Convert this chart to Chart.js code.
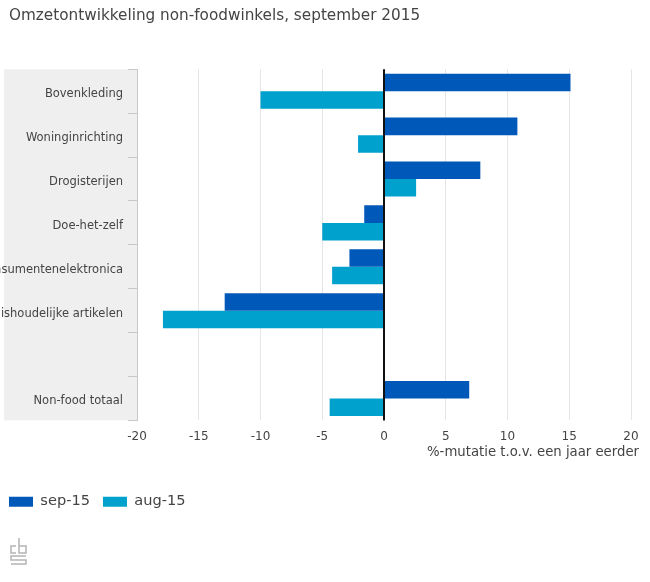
<!DOCTYPE html>
<html>
<head>
<meta charset="utf-8">
<script src="https://cdn.jsdelivr.net/npm/chart.js@4"></script>
<style>
    html, body { margin: 0; padding: 0; background: #fff; overflow: hidden; }
    #wrap { width: 650px; height: 582px; }
</style>
</head>
<body>
<div id="wrap"><canvas id="salesChart"></canvas></div>
<script>
const categories = ['Bovenkleding', 'Woninginrichting', 'Drogisterijen', 'Doe-het-zelf',
    'Consumentenelektronica', 'Huishoudelijke artikelen', ' ', 'Non-food totaal'];
const sep15 = [15.1, 10.8, 7.8, -1.6, -2.8, -12.9, null, 6.9];
const aug15 = [-10, -2.1, 2.6, -5, -4.2, -17.9, null, -4.4];
const xTicks = [-20, -15, -10, -5, 0, 5, 10, 15, 20];
const chartTitle = 'Omzetontwikkeling non-foodwinkels, september 2015';
const axisTitle = '%-mutatie t.o.v. een jaar eerder';

const FONT = '"DejaVu Sans", sans-serif';
const TEXT = '#444444';

// Grey band behind the category labels, zero line, axis caption and logo
const extras = {
    id: 'extras',
    afterLayout(chart) {
        // title and legend start at x=9, the y labels run on to the page edge
        chart.titleBlock.left = 9;
        chart.legend.left = 9 - 13;
        chart.legend.top += 1;
    },
    beforeDraw(chart) {
        const a = chart.chartArea;
        const c = chart.ctx;
        c.save();
        c.fillStyle = '#efefef';
        c.fillRect(4, a.top, a.left - 4, a.bottom - a.top);
        c.restore();
    },
    afterDatasetsDraw(chart) {
        const a = chart.chartArea;
        const c = chart.ctx;
        const x0 = chart.scales.x.getPixelForValue(0);
        c.save();
        c.strokeStyle = '#111111';
        c.lineWidth = 2;
        c.beginPath();
        c.moveTo(x0, a.top);
        c.lineTo(x0, a.bottom);
        c.stroke();
        c.restore();
    },
    afterDraw(chart) {
        const c = chart.ctx;
        c.save();
        c.fillStyle = TEXT;
        c.font = '13.25px ' + FONT;
        c.textAlign = 'right';
        c.textBaseline = 'middle';
        c.fillText(axisTitle, 639, 453);

        // cbs logo
        c.strokeStyle = '#b4b4b4';
        c.lineWidth = 1.5;
        c.beginPath();
        // c
        c.moveTo(16, 546); c.lineTo(11, 546); c.lineTo(11, 553); c.lineTo(16, 553);
        // b
        c.moveTo(19, 538); c.lineTo(19, 553); c.lineTo(26, 553); c.lineTo(26, 546); c.lineTo(19, 546);
        // s
        c.moveTo(26, 556); c.lineTo(11, 556); c.lineTo(11, 560); c.lineTo(26, 560);
        c.lineTo(26, 564); c.lineTo(11, 564);
        c.stroke();
        c.restore();
    }
};

new Chart(document.getElementById('salesChart').getContext('2d'), {
    type: 'bar',
    data: {
        labels: categories,
        datasets: [
            { label: 'sep-15', data: sep15, backgroundColor: '#0058b8' },
            { label: 'aug-15', data: aug15, backgroundColor: '#00a1cd' }
        ]
    },
    options: {
        indexAxis: 'y',
        responsive: true,
        maintainAspectRatio: false,
        animation: false,
        barPercentage: 1,
        categoryPercentage: 0.8,
        layout: { padding: { left: 0, right: 19, top: 0, bottom: 64 } },
        plugins: {
            tooltip: { enabled: false },
            title: {
                display: true,
                text: chartTitle,
                align: 'start',
                color: TEXT,
                font: { family: FONT, size: 15.25, weight: 'normal' },
                padding: { top: 7, bottom: 44 }
            },
            legend: {
                position: 'bottom',
                align: 'start',
                labels: {
                    boxWidth: 24,
                    boxHeight: 10,
                    padding: 13,
                    color: TEXT,
                    font: { family: FONT, size: 14.6 }
                }
            }
        },
        scales: {
            x: {
                min: -20,
                max: 20,
                afterBuildTicks(axis) { axis.ticks = xTicks.map(v => ({ value: v })); },
                afterFit(axis) { axis.height = 60; },
                border: { display: false },
                grid: { color: '#e6e6e6', lineWidth: 1, drawTicks: false },
                ticks: {
                    color: TEXT,
                    padding: 9,
                    maxRotation: 0,
                    font: { family: FONT, size: 12 }
                }
            },
            y: {
                afterFit(axis) { axis.width = 137; },
                border: { display: true, color: '#c8c8c8' },
                grid: { drawOnChartArea: false, color: '#c8c8c8', tickLength: 9, offset: true },
                ticks: {
                    autoSkip: false,
                    color: TEXT,
                    padding: 5,
                    labelOffset: 3,
                    font: { family: FONT, size: 11.5 }
                }
            }
        }
    },
    plugins: [extras]
});
</script>
</body>
</html>
